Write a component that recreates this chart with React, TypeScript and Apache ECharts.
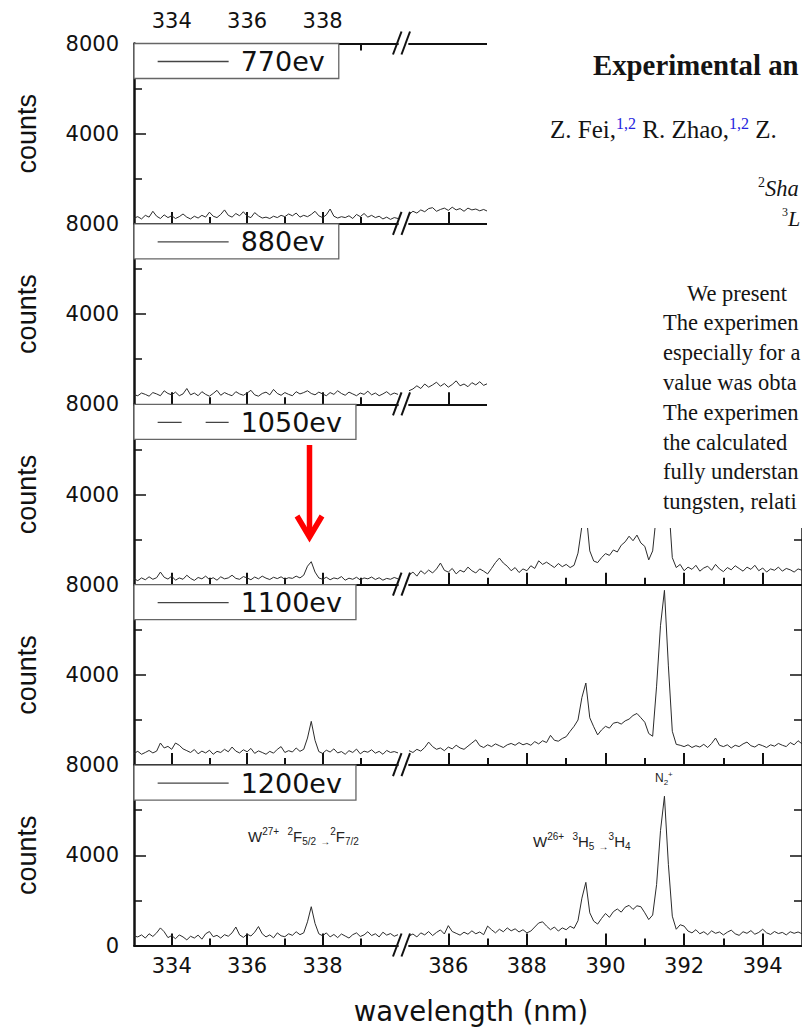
import React, { useEffect, useRef } from "react";
import * as echarts from "echarts";

// Sampling grid of the spectrometer traces (nm)
const LEFT_START = 333.0;
const RIGHT_START = 385.0;
const STEP = 0.1;

// Beam energies, top to bottom
const energies = ["770ev", "880ev", "1050ev", "1100ev", "1200ev"];

// Tick positions on the broken wavelength axis
const leftMajor = [334, 336, 338];
const leftMinor = [335, 337, 339];
const rightMajor = [386, 388, 390, 392, 394];
const rightMinor = [387, 389, 391, 393];

// Counts, 333.0-340.0 nm (left) and 385.0-395.0 nm (right), one value every 0.1 nm
const left770 = [
  260, 320, 220, 380, 300, 560, 340, 240, 400, 280,
  360, 240, 320, 440, 300, 220, 340, 260, 380, 300,
  520, 340, 280, 420, 620, 380, 300, 460, 360, 540,
  340, 280, 500, 360, 260, 300, 240, 340, 280, 380,
  320, 440, 360, 480, 300, 380, 320, 420, 560, 360,
  280, 400, 660, 340, 260, 320, 280, 360, 240, 420,
  320, 460, 300, 380, 280, 340, 220, 300, 200, 280,
  240,
];
const right770 = [
  420, 560, 480, 620, 540, 680, 720, 560, 640, 700,
  600, 740, 620, 680, 560, 700, 620, 660, 580, 640,
  560, 620, 540, 600, 660, 580, 640, 560, 620, 700,
  600, 660, 580, 640, 720, 620, 680, 600, 660, 580,
  640, 700, 620, 680, 740, 760, 660, 620, 680, 640,
  700, 660, 720, 680, 740, 700, 660, 720, 680, 640,
  700, 660, 720, 800, 960, 1080, 880, 700, 640, 600,
  660, 580, 640, 600, 680, 620, 560, 640, 600, 660,
  580, 640, 600, 560, 620, 680, 600, 640, 580, 620,
  560, 640, 600, 660, 580, 620, 560, 640, 600, 580,
  620,
];
const left880 = [
  420, 380, 500, 440, 360, 520, 460, 380, 600, 480,
  420, 540, 380, 460, 700, 420, 500, 380, 560, 440,
  360, 480, 620, 400, 520, 440, 380, 560, 460, 400,
  500, 620, 420, 360, 480, 540, 420, 660, 480, 400,
  520, 440, 380, 560, 460, 520, 600, 480, 420, 540,
  460, 380, 520, 440, 600, 480, 400, 540, 460, 380,
  500, 440, 580, 420, 500, 380, 460, 560, 420, 500,
  440,
];
const right880 = [
  600, 680, 820, 700, 900, 760, 860, 980, 800, 920,
  760, 880, 1040, 820, 900, 780, 960, 860, 1000, 840,
  920, 780, 880, 960, 820, 900, 780, 940, 860, 980,
  820, 900, 960, 840, 920, 1000, 880, 940, 860, 980,
  900, 960, 1020, 1080, 1160, 1200, 1060, 980, 1040, 1100,
  1080, 1140, 1100, 1180, 1120, 1200, 1160, 1220, 1180, 1140,
  1080, 1020, 1100, 1300, 1600, 1800, 1400, 1080, 940, 1000,
  900, 960, 880, 1000, 920, 860, 980, 900, 960, 880,
  1000, 920, 860, 980, 900, 840, 960, 900, 1020, 880,
  940, 860, 980, 920, 860, 1000, 900, 960, 880, 940,
  900,
];
const left1050 = [
  260, 180, 300, 220, 350, 240, 310, 560, 330, 250,
  380, 200, 300, 240, 420, 280, 190, 320, 260, 380,
  230, 310, 200, 350, 260, 300, 420, 280, 240, 360,
  300, 220, 340, 260, 380, 290, 230, 330, 270, 350,
  240, 310, 280, 380, 300, 420, 820, 1020, 560, 300,
  240, 330, 220, 300, 260, 360, 200, 290, 240, 330,
  210, 300, 260, 340, 230, 310, 200, 280, 240, 320,
  260,
];
const right1050 = [
  420, 560, 380, 620, 480, 650, 520, 700, 960, 640,
  560, 720, 480, 640, 560, 780, 620, 520, 700, 600,
  480, 720, 980, 1180, 960, 820, 620, 760, 540, 700,
  620, 840, 720, 1060, 900, 1000, 880, 760, 940, 800,
  900, 760, 860, 1400, 2600, 3300, 1500, 1050, 980, 1200,
  1380, 1300, 1540, 1450, 1750, 1900, 2150, 1950, 2200, 1850,
  1700, 1100, 1500, 3200, 5800, 7000, 3800, 1200, 760, 900,
  620, 780, 680, 860, 600, 740, 820, 640, 900, 700,
  580, 760, 660, 840, 720, 600, 780, 680, 860, 620,
  740, 560, 700, 640, 780, 600, 720, 660, 560, 700,
  640,
];
const left1100 = [
  520, 610, 480, 560, 650, 540, 620, 980, 760, 830,
  700, 980, 880, 720, 640, 560, 690, 500, 620, 540,
  660, 480, 610, 560, 700, 590, 800, 620, 540, 680,
  590, 740, 520, 630, 560, 480, 610, 530, 700, 820,
  560, 640, 580, 760, 610, 700, 1200, 1940, 1100, 600,
  520, 660, 580, 720, 540, 600, 480, 640, 560, 710,
  500, 620, 570, 680, 530, 610, 480, 650, 560, 600,
  540,
];
const right1100 = [
  640, 560, 700, 620, 780, 1020, 820, 700, 760, 640,
  800, 720, 880, 760, 700, 840, 980, 1120, 860, 780,
  900, 820, 940, 860, 780, 900, 960, 880, 1000, 900,
  960, 880, 1040, 940, 1080, 1000, 1320, 1100, 1060, 1180,
  1260, 1500, 1720, 2000, 3000, 3640, 2100, 1700, 1340, 1560,
  1720, 1640, 1860, 1900, 1820, 1960, 2040, 2200, 2290, 2100,
  1900, 1400, 1280, 3500, 6200, 7750, 4400, 1500, 920, 880,
  820, 900, 780, 860, 800, 920, 780, 960, 1200, 880,
  820, 900, 760, 880, 820, 940, 1020, 860, 800, 920,
  860, 780, 900, 840, 960, 880, 820, 1000, 900, 1080,
  940,
];
const left1200 = [
  420, 380, 470, 330, 520, 400, 560, 780, 610, 350,
  440, 300, 470, 380, 250, 410, 330, 460, 280, 520,
  620, 390, 450, 330, 480, 410, 560, 820, 470, 360,
  500, 420, 590, 840, 520, 380, 470, 340, 560, 430,
  390, 520, 450, 610, 480, 560, 1050, 1720, 980, 520,
  430, 560, 380, 490, 350, 510, 420, 330, 480, 560,
  400, 470, 610, 440, 520, 380, 590, 460, 530, 410,
  480,
];
const right1200 = [
  420, 510, 380, 560, 470, 620, 440, 580, 690, 510,
  880, 620, 540, 460, 590, 500, 650, 520, 600, 480,
  860, 700, 560, 720, 610, 780, 650, 740, 600, 700,
  560, 640, 820, 1000, 1050, 860, 700, 820, 640, 780,
  700, 850, 760, 1100, 2100, 2800, 1450, 1080, 950, 1200,
  1420, 1250, 1500, 1620, 1480, 1700, 1780, 1600, 1760, 1720,
  1450, 1150, 1350, 2700, 5100, 6620, 3600, 1300, 720, 920,
  860, 640, 560, 700, 520, 610, 480, 650, 540, 600,
  470, 590, 680, 520, 450, 610, 540, 660, 500, 580,
  720, 560, 490, 620, 530, 580, 470, 610, 540, 600,
  520,
];

const leftTraces = [left770, left880, left1050, left1100, left1200];
const rightTraces = [right770, right880, right1050, right1100, right1200];

// Layout
const PANEL_TOP = 43.5;
const PANEL_H = 180.4;
const LEFT_X = 134;
const LEFT_W = 264;
const RIGHT_X = 409;
const RIGHT_W = 397;

const INK = "#111";
const TRACE = "#2b2b2b";
const SANS_WIDE = "DejaVu Sans";
const SANS = "Liberation Sans";
const SERIF = "Liberation Serif";

const toPairs = (start: number, vals: number[]) =>
  vals.map((v, i) => [Math.round((start + i * STEP) * 10) / 10, v]);

function buildOption() {
  const grid: any[] = [];
  const xAxis: any[] = [];
  const yAxis: any[] = [];
  const series: any[] = [];
  const legend: any[] = [];

  energies.forEach((name, k) => {
    const top = PANEL_TOP + k * PANEL_H;
    const isLast = k === energies.length - 1;
    [0, 1].forEach((s) => {
      const g = grid.length;
      grid.push({
        left: s ? RIGHT_X : LEFT_X,
        width: s ? RIGHT_W : LEFT_W,
        top,
        height: PANEL_H,
        containLabel: false,
      });
      const min = s ? 385 : 333;
      const max = s ? 395 : 340;
      const majors = s ? rightMajor : leftMajor;
      const minors = s ? rightMinor : leftMinor;
      const mainIdx = xAxis.length;
      xAxis.push({
        type: "value",
        gridIndex: g,
        position: "bottom",
        min,
        max,
        interval: 1,
        axisLine: { show: true, onZero: false, lineStyle: { color: INK, width: 1.8 } },
        axisTick: {
          show: true,
          inside: true,
          length: 12,
          customValues: majors,
          lineStyle: { color: INK, width: 2 },
        },
        axisLabel: {
          show: isLast,
          customValues: majors,
          margin: 10,
          fontSize: 21,
          fontFamily: SANS_WIDE,
          color: INK,
          formatter: (v: number) => String(v),
        },
        splitLine: { show: false },
      });
      xAxis.push({
        type: "value",
        gridIndex: g,
        position: "bottom",
        min,
        max,
        interval: 1,
        axisLine: { show: false, onZero: false },
        axisTick: {
          show: true,
          inside: true,
          length: 7,
          customValues: minors,
          lineStyle: { color: INK, width: 2 },
        },
        axisLabel: { show: false },
        splitLine: { show: false },
      });
      if (k === 0) {
        xAxis.push({
          type: "value",
          gridIndex: g,
          position: "top",
          min,
          max,
          interval: 1,
          axisLine: { show: true, onZero: false, lineStyle: { color: INK, width: 1.8 } },
          axisTick: {
            show: s === 0,
            inside: true,
            length: 7,
            customValues: [...leftMajor, ...leftMinor],
            lineStyle: { color: INK, width: 2 },
          },
          axisLabel: {
            show: s === 0,
            customValues: leftMajor,
            margin: 12,
            fontSize: 21,
            fontFamily: SANS_WIDE,
            color: INK,
            formatter: (v: number) => String(v),
          },
          splitLine: { show: false },
        });
      }
      yAxis.push({
        type: "value",
        gridIndex: g,
        position: s ? "right" : "left",
        min: 0,
        max: 8000,
        interval: 4000,
        axisLine: { show: true, onZero: false, lineStyle: { color: INK, width: 2.5 } },
        axisTick: { show: true, inside: true, length: 12, lineStyle: { color: INK, width: 1.5 } },
        minorTick: { show: true, splitNumber: 2, length: 8, lineStyle: { color: INK, width: 1.5 } },
        axisLabel: {
          show: s === 0,
          showMinLabel: isLast,
          margin: 15,
          fontSize: 21,
          fontFamily: SANS_WIDE,
          color: INK,
          formatter: (v: number) => String(v),
        },
        splitLine: { show: false },
        name: s === 0 ? "counts" : "",
        nameLocation: "middle",
        nameRotate: 90,
        nameGap: 94,
        nameTextStyle: { fontSize: 27, fontFamily: SANS, color: INK },
      });
      series.push({
        type: "line",
        name,
        xAxisIndex: mainIdx,
        yAxisIndex: g,
        data: toPairs(s ? RIGHT_START : LEFT_START, s ? rightTraces[k] : leftTraces[k]),
        symbol: "none",
        silent: true,
        lineStyle: { color: TRACE, width: 1 },
        z: 2,
      });
    });
    legend.push({
      left: LEFT_X,
      top,
      orient: "horizontal",
      selectedMode: false,
      data: [name],
      itemWidth: 71,
      itemHeight: 14,
      padding: [3, 14, 2, 23],
      backgroundColor: "#fff",
      borderColor: "#666",
      borderWidth: 1.3,
      borderRadius: 0,
      itemStyle: { opacity: 0 },
      lineStyle:
        k === 2
          ? { color: "#444", width: 1.3, type: [24, 24] }
          : { color: "#444", width: 1.3 },
      textStyle: {
        fontSize: 27,
        lineHeight: 27,
        padding: [3, 0, 0, 7],
        fontFamily: SANS_WIDE,
        color: INK,
      },
    });
  });

  // Break marks on the wavelength axis at every panel boundary
  const breaks: any[] = [];
  for (let i = 0; i <= energies.length; i++) {
    const y = PANEL_TOP + i * PANEL_H;
    breaks.push(
      {
        type: "line",
        z: 20,
        shape: { x1: 393, y1: y + 11, x2: 401.5, y2: y - 12 },
        style: { stroke: INK, lineWidth: 2 },
      },
      {
        type: "line",
        z: 20,
        shape: { x1: 401.5, y1: y + 11, x2: 410, y2: y - 12 },
        style: { stroke: INK, lineWidth: 2 },
      }
    );
  }

  const tinyFont = (size: number, va: string) => ({
    fontSize: size,
    lineHeight: size,
    fontFamily: SANS,
    fill: "#222",
    verticalAlign: va,
  });

  const annotations: any[] = [
    {
      type: "text",
      z: 20,
      x: 248,
      y: 836,
      style: {
        text: "W{sup|27+}  {sup|2}F{sub|5/2} {sub|→}{sup|2}F{sub|7/2}",
        fontSize: 15,
        lineHeight: 20,
        fontFamily: SANS,
        fill: "#222",
        verticalAlign: "middle",
        rich: { sup: tinyFont(10, "top"), sub: tinyFont(10, "bottom") },
      },
    },
    {
      type: "text",
      z: 20,
      x: 533,
      y: 841,
      style: {
        text: "W{sup|26+}  {sup|3}H{sub|5} {sub|→}{sup|3}H{sub|4}",
        fontSize: 15,
        lineHeight: 20,
        fontFamily: SANS,
        fill: "#222",
        verticalAlign: "middle",
        rich: { sup: tinyFont(10, "top"), sub: tinyFont(10, "bottom") },
      },
    },
    {
      type: "text",
      z: 20,
      x: 655,
      y: 778,
      style: {
        text: "N{sub|2}{sup|+}",
        fontSize: 12,
        lineHeight: 16,
        fontFamily: SANS,
        fill: "#222",
        verticalAlign: "middle",
        rich: { sup: tinyFont(8, "top"), sub: tinyFont(8, "bottom") },
      },
    },
    {
      type: "text",
      z: 20,
      x: 471,
      y: 1011,
      style: {
        text: "wavelength (nm)",
        fontSize: 27.5,
        fontFamily: SANS_WIDE,
        fill: INK,
        align: "center",
        verticalAlign: "middle",
      },
    },
    // arrow pointing at the W27+ line in the 1050 eV trace
    {
      type: "line",
      z: 25,
      shape: { x1: 309.5, y1: 445, x2: 309.5, y2: 533 },
      style: { stroke: "#f00", lineWidth: 5.5 },
    },
    {
      type: "polyline",
      z: 25,
      shape: { points: [[297, 516], [309.5, 537], [322, 516]] },
      style: { stroke: "#f00", lineWidth: 5.5, fill: null, lineJoin: "miter" },
    },
  ];

  // Paper page laid over the upper right corner
  const serif = (size: number, extra: any = {}) => ({
    fontSize: size,
    fontFamily: SERIF,
    fill: "#141414",
    verticalAlign: "middle",
    ...extra,
  });
  const abstractLines = [
    "We present",
    "The experimen",
    "especially for a",
    "value was obta",
    "The experimen",
    "the calculated",
    "fully understan",
    "tungsten, relati",
  ];
  const page: any[] = [
    {
      type: "rect",
      z: 100,
      shape: { x: 487, y: 0, width: 330, height: 528 },
      style: { fill: "#fff" },
    },
    {
      type: "text",
      z: 101,
      x: 593,
      y: 65,
      style: serif(28.8, { text: "Experimental an", fontWeight: "bold" }),
    },
    {
      type: "text",
      z: 101,
      x: 550,
      y: 129,
      style: serif(25, {
        text: "Z. Fei,{b|1,2} R. Zhao,{b|1,2} Z.",
        lineHeight: 27,
        rich: {
          b: { fontSize: 16, lineHeight: 16, fontFamily: SERIF, fill: "#2424e0", verticalAlign: "top" },
        },
      }),
    },
    {
      type: "text",
      z: 101,
      x: 758,
      y: 188,
      style: serif(22.5, {
        text: "{s|2}Sha",
        fontStyle: "italic",
        lineHeight: 25,
        rich: {
          s: { fontSize: 14, lineHeight: 14, fontFamily: SERIF, fill: "#141414", verticalAlign: "top" },
        },
      }),
    },
    {
      type: "text",
      z: 101,
      x: 782,
      y: 218,
      style: serif(22, {
        text: "{s|3}L",
        fontStyle: "italic",
        lineHeight: 25,
        rich: {
          s: { fontSize: 12, lineHeight: 12, fontFamily: SERIF, fill: "#141414", verticalAlign: "top" },
        },
      }),
    },
    ...abstractLines.map((t, i) => ({
      type: "text",
      z: 101,
      x: i === 0 ? 687 : 663,
      y: 293 + i * 29.8,
      style: serif(22.5, { text: t }),
    })),
  ];

  return {
    animation: false,
    backgroundColor: "#fff",
    grid,
    xAxis,
    yAxis,
    legend,
    series,
    graphic: { elements: [...breaks, ...annotations, ...page] },
  };
}

export default function App() {
  const ref = useRef<HTMLDivElement>(null);
  useEffect(() => {
    if (!ref.current) return;
    const chart = echarts.init(ref.current, undefined, { renderer: "svg" });
    chart.setOption(buildOption() as any);
    return () => chart.dispose();
  }, []);
  return (
    <div
      ref={ref}
      style={{ position: "fixed", left: 0, top: 0, width: 802, height: 1027, background: "#fff" }}
    />
  );
}
